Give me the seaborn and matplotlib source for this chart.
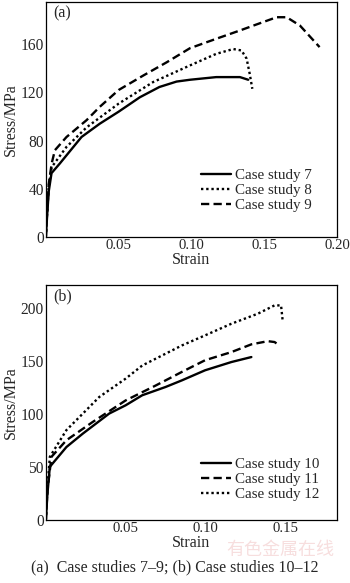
import numpy as np
import pandas as pd
import matplotlib
matplotlib.use('Agg')
import matplotlib.pyplot as plt
import seaborn as sns

# panel (a): case studies 7-9
strain_7 = [0, 0.001, 0.002, 0.0039, 0.0096, 0.0245, 0.037, 0.05, 0.0646, 0.078, 0.0898, 0.099, 0.117, 0.1333, 0.139]
stress_7 = [0, 20, 38, 53, 61, 83, 94, 104, 116, 124.5, 129, 130.5, 132.7, 132.7, 130.5]
strain_8 = [0, 0.001, 0.002, 0.004, 0.0142, 0.028, 0.05, 0.0737, 0.099, 0.117, 0.1287, 0.1344, 0.1379, 0.140, 0.1418]
stress_8 = [0, 22, 42, 58, 74.8, 91, 110.7, 128.6, 142.4, 152, 156, 154.8, 148, 135.5, 123]
strain_9 = [0, 0.001, 0.002, 0.004, 0.0062, 0.0142, 0.028, 0.037, 0.05, 0.0669, 0.083, 0.099, 0.117, 0.1333,
            0.1447, 0.1585, 0.1654, 0.1745, 0.188]
stress_9 = [0, 24, 44, 61, 72, 83, 97, 108, 122, 134, 145, 156.7, 164.5, 171.4, 176.4, 182.4, 182.4, 175.5, 157.6]

# panel (b): case studies 10-12
strain_10 = [0, 0.001, 0.0025, 0.0129, 0.0232, 0.0397, 0.05, 0.0604, 0.075, 0.0853, 0.0998, 0.1163, 0.1288]
stress_10 = [0, 25, 50.3, 69, 81.7, 100.6, 108.4, 117.9, 125.7, 132, 141.5, 149.3, 154]
strain_11 = [0, 0.001, 0.0035, 0.0129, 0.0294, 0.05, 0.0687, 0.0853, 0.0998, 0.1163, 0.1288, 0.1391, 0.1433, 0.1464]
stress_11 = [0, 28, 59.7, 75.4, 92.7, 113, 127, 140, 151, 158.7, 166, 169, 168.2, 165]
strain_12 = [0, 0.001, 0.0025, 0.0129, 0.0232, 0.0335, 0.05, 0.0604, 0.0853, 0.0998, 0.1163, 0.1329, 0.1433,
             0.1474, 0.1484]
stress_12 = [0, 30, 59.7, 85, 100.6, 116.3, 133.6, 146, 165, 174.5, 185.5, 195, 202.8, 202.8, 188.6]

sns.set_style('white')
plt.rcParams['font.family'] = ['Liberation Serif', 'DejaVu Serif']

fig = plt.figure(figsize=(3.5, 5.83), dpi=100)
ax1 = fig.add_axes([0.131, 0.5935, 0.832, 0.403])
ax2 = fig.add_axes([0.131, 0.108, 0.832, 0.403])

styles = {'solid': '-', 'dotted': (0, (1, 1.2)), 'dashed': (0, (3.5, 1.8))}


def draw(ax, series):
    for x, y, lab, ls in series:
        df = pd.DataFrame({'Strain': x, 'Stress': y})
        sns.lineplot(data=df, x='Strain', y='Stress', ax=ax, sort=False, estimator=None,
                     color='black', lw=1.7, linestyle=styles[ls], label=lab)


draw(ax1, [(strain_7, stress_7, 'Case study 7', 'solid'),
           (strain_8, stress_8, 'Case study 8', 'dotted'),
           (strain_9, stress_9, 'Case study 9', 'dashed')])
draw(ax2, [(strain_10, stress_10, 'Case study 10', 'solid'),
           (strain_11, stress_11, 'Case study 11', 'dashed'),
           (strain_12, stress_12, 'Case study 12', 'dotted')])

ax1.set_xlim(0, 0.2)
ax1.set_ylim(0, 195)
ax1.set_xticks([0.05, 0.10, 0.15, 0.20])
ax1.set_xticklabels(['0.05', '0.10', '0.15', '0.20'])
ax1.set_yticks([0, 40, 80, 120, 160])

ax2.set_xlim(0, 0.1825)
ax2.set_ylim(0, 222)
ax2.set_xticks([0.05, 0.10, 0.15])
ax2.set_xticklabels(['0.05', '0.10', '0.15'])
ax2.set_yticks([0, 50, 100, 150, 200])

legend_pos = {ax1: (0.915, 0.105), ax2: (0.94, 0.08)}
for ax, tag in [(ax1, '(a)'), (ax2, '(b)')]:
    ax.set_xlabel('Strain', fontsize=11.5, labelpad=0)
    ax.set_ylabel('Stress/MPa', fontsize=11.5, labelpad=1)
    ax.tick_params(direction='in', length=2.5, width=0.6, labelsize=11.2, pad=1.5)
    ax.tick_params(axis='x', labelsize=10.6)
    for s in ax.spines.values():
        s.set_linewidth(0.9)
        s.set_color('black')
    ax.text(0.025, 0.985, tag, transform=ax.transAxes, ha='left', va='top', fontsize=11.5)
    ax.legend(loc='lower right', bbox_to_anchor=legend_pos[ax], frameon=False, fontsize=10.8,
              handlelength=2.0, labelspacing=0.1, handletextpad=0.3, borderaxespad=0, borderpad=0)

fig.text(0.5, 0.027, '(a)  Case studies 7\u20139; (b) Case studies 10\u201312', ha='center', va='center',
         fontsize=11.5)
fig.text(0.8, 0.056, '有色金属在线', ha='center', va='center', fontsize=13, color='#f7dede',
         family=['Noto Sans CJK SC', 'DejaVu Sans'], zorder=0)

fig.savefig('out.png', dpi=100)
